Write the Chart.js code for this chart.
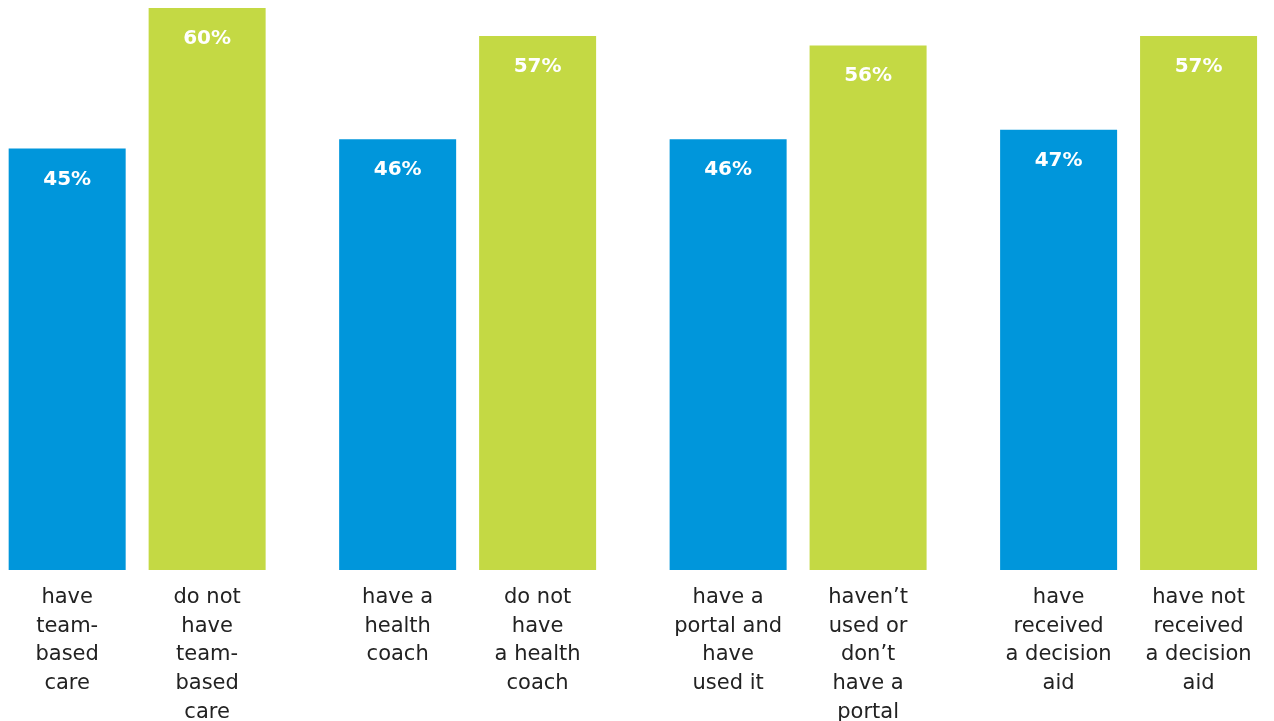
<!DOCTYPE html>
<html>
<head>
<meta charset="utf-8">
<script src="https://cdn.jsdelivr.net/npm/chart.js@4"></script>
<style>
  html, body { margin:0; padding:0; background:#fff; }
  #wrap { width:1274px; height:721px; }
</style>
</head>
<body>
<div id="wrap"><canvas id="chart"></canvas></div>
<script>
// values per group: first bar (blue) and second bar (green)
const blueValues = [45, 46, 46, 47];
const greenValues = [60, 57, 56, 57];

// labels under each bar, one entry per line
const blueLabels = [
  ['have', 'team-', 'based', 'care'],
  ['have a', 'health', 'coach'],
  ['have a', 'portal and', 'have', 'used it'],
  ['have', 'received', 'a decision', 'aid']
];
const greenLabels = [
  ['do not', 'have', 'team-', 'based', 'care'],
  ['do not', 'have', 'a health', 'coach'],
  ['haven’t', 'used or', 'don’t', 'have a', 'portal'],
  ['have not', 'received', 'a decision', 'aid']
];

const BLUE = '#0096DB';
const GREEN = '#C4D944';

// white % labels inside the bar tops, text labels under the bars
const barText = {
  id: 'barText',
  afterDatasetsDraw(chart) {
    const ctx = chart.ctx;
    const under = [blueLabels, greenLabels];
    ctx.save();
    ctx.textAlign = 'center';
    ctx.textBaseline = 'alphabetic';
    chart.data.datasets.forEach((ds, di) => {
      chart.getDatasetMeta(di).data.forEach((bar, i) => {
        ctx.font = 'bold 20px "DejaVu Sans"';
        ctx.fillStyle = '#fff';
        ctx.fillText(ds.data[i].y + '%', bar.x, bar.y + 36);
        ctx.font = '21px "DejaVu Sans"';
        ctx.fillStyle = '#222';
        under[di][i].forEach((line, li) => {
          ctx.fillText(line, bar.x, bar.base + 33 + li * 28.7);
        });
      });
    });
    ctx.restore();
  }
};

new Chart(document.getElementById('chart'), {
  type: 'bar',
  data: {
    datasets: [
      { data: blueValues.map((v, i) => ({ x: i, y: v })), backgroundColor: BLUE },
      { data: greenValues.map((v, i) => ({ x: i, y: v })), backgroundColor: GREEN }
    ]
  },
  options: {
    responsive: true,
    maintainAspectRatio: false,
    animation: false,
    categoryPercentage: 0.847,
    barPercentage: 0.836,
    layout: { padding: { top: 8, bottom: 151, left: 0, right: 0 } },
    plugins: { legend: { display: false }, tooltip: { enabled: false } },
    scales: {
      x: {
        type: 'linear', display: false, offset: false, grid: { offset: false },
        min: -0.415, max: 3.44,
        ticks: { stepSize: 1, includeBounds: false }
      },
      y: { display: false, min: 0, max: 60 }
    }
  },
  plugins: [barText]
});
</script>
</body>
</html>
